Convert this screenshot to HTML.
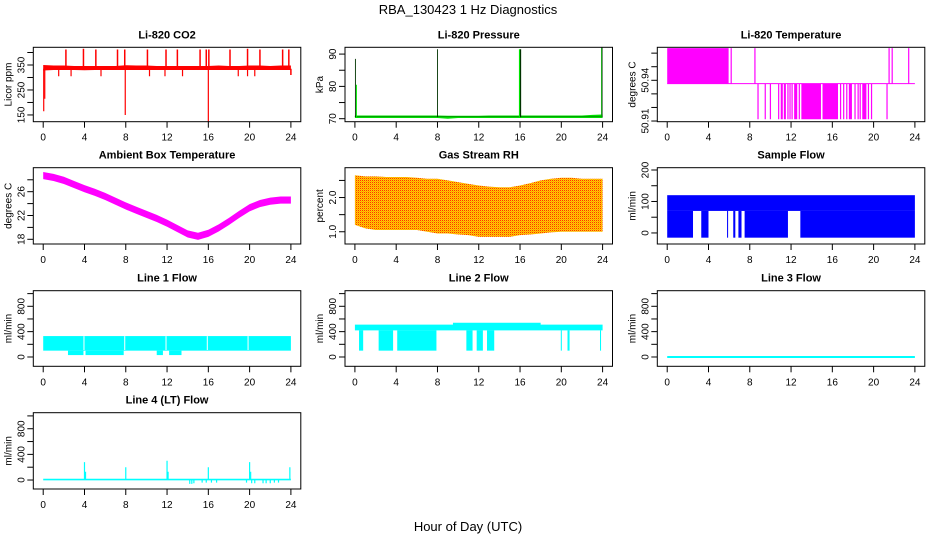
<!DOCTYPE html>
<html><head><meta charset="utf-8"><style>
html,body{margin:0;padding:0;background:#fff}
svg{display:block;font-family:"Liberation Sans",Arial,sans-serif}
</style></head><body>
<svg id="chart" width="936" height="540" viewBox="0 0 936 540" xmlns="http://www.w3.org/2000/svg">
<defs>
<pattern id="rhpat" width="2" height="2" patternUnits="userSpaceOnUse">
<rect width="2" height="2" fill="#ffd000"/><rect x="0" y="0" width="1" height="1" fill="#ff3000"/><rect x="1" y="1" width="1" height="1" fill="#ffa000"/>
</pattern>
</defs>
<text x="468" y="14" font-size="13" text-anchor="middle">RBA_130423  1 Hz Diagnostics</text>
<text x="468" y="531" font-size="13" text-anchor="middle">Hour of Day (UTC)</text>
</svg>
<script>
// ---- data ----
const hours = [0,1,2,3,4,5,6,7,8,9,10,11,12,13,14,15,16,17,18,19,20,21,22,23,24];
const co2Lo = [328,330,330,330,329,330,330,330,330,330,330,330,330,330,330,330,330,330,330,330,330,330,330,330,330];
const co2Hi = [350,348,348,346,346,346,346,346,349,348,348,346,346,346,346,346,346,348,346,346,348,348,346,348,348];
const co2UpHours = [2.2,3.9,5.1,7.2,7.9,10.1,11.9,13.0,15.2,15.8,16.05,18.1,19.8,21.0,23.2,23.8];
const co2UpVals = [412,415,412,412,412,412,412,412,412,412,412,412,415,412,412,412];
const co2DownHours = [0.05,0.15,7.95,16.0,1.5,2.7,5.6,10.3,11.8,13.5,18.9,19.8,20.5];
const co2DownVals = [165,215,150,122,305,305,305,305,305,305,305,305,305];

const presLo = [70.2,70.2,70.2,70.2,70.2,70.2,70.2,70.2,70.2,70.0,70.2,70.2,70.2,70.2,70.2,70.2,70.2,70.2,70.2,70.2,70.2,70.2,70.2,70.2,70.2];
const presHi = [71.0,71.0,71.0,71.0,71.0,71.0,71.0,71.0,71.0,70.9,70.9,70.9,70.9,71.0,71.0,71.0,71.0,71.0,71.0,71.0,71.0,71.0,71.0,71.2,71.3];
const presSpikeHours = [0.05,0.15,8.0,15.95,16.05,23.9,23.95];
const presSpikeVals = [88.5,80.5,91.5,91.5,91.5,92.0,92.0];

const tempMain = 50.9375;
const tempUpBlocks = [[0,5.95]];
const tempUpHours = [6.2,8.5,21.5,21.8,23.4];
const tempDownBlocks = [[11.0,11.2],[11.3,11.5],[12.3,12.6],[13.0,14.9],[15.05,16.55],[17.6,17.9],[18.9,19.3]];
const tempDownHours = [8.8,9.5,10.0,10.8,11.7,11.9,12.1,12.8,16.8,17.1,17.4,18.2,18.5,18.7,19.5,19.8,21.3];
const tempTop = 50.9637, tempBottom = 50.9113;

const ambLo = [28.1,27.8,27.3,26.6,25.9,25.3,24.6,23.8,23.0,22.3,21.6,20.9,20.1,19.2,18.3,17.9,18.4,19.3,20.4,21.6,22.7,23.4,23.8,24.0,24.0];
const ambHi = [29.3,29.0,28.5,27.8,27.1,26.5,25.8,25.0,24.2,23.5,22.8,22.1,21.3,20.4,19.5,19.1,19.6,20.5,21.6,22.8,23.9,24.6,25.0,25.2,25.2];

const rhLo = [1.2,1.1,1.05,1.05,1.05,1.05,1.05,1.0,0.95,0.95,0.92,0.9,0.85,0.85,0.85,0.85,0.9,0.92,0.95,0.98,1.0,1.0,1.0,1.0,1.0];
const rhHi = [2.65,2.62,2.62,2.6,2.6,2.6,2.58,2.55,2.55,2.5,2.45,2.4,2.35,2.32,2.3,2.3,2.35,2.42,2.5,2.55,2.58,2.58,2.55,2.55,2.55];

const sampleHi = 120, sampleMid = 70, sampleLo = -15;
const sampleGaps = [[2.5,3.3],[4.0,5.8],[5.9,6.4],[6.6,6.9],[7.2,7.5],[11.7,12.9]];

const line1Lo = 100, line1Hi = 330;
const line1LowBlocks = [[2.4,3.9],[4.1,7.8],[11.0,11.6],[12.2,13.4]];
const line1LowVal = 30;
const line1Gaps = [3.95,7.9,11.9,15.9,19.85];

const line2Lo = 420;
const line2HiHours = [0,9.5,9.5,18,18,24];
const line2HiVals = [510,510,540,540,510,510];
const line2DownBlocks = [[0.4,0.8],[2.3,3.7],[4.1,7.9],[10.8,11.4],[11.8,12.4],[12.8,13.5],[19.95,20.05],[20.6,20.8],[23.75,23.85]];
const line2DownVal = 100;

const line3Val = 0;

const line4Lo = -5, line4Hi = 20;
const line4SpikeHours = [4.0,4.1,8.0,12.0,12.1,16.0,20.0,20.1,23.9];
const line4SpikeVals = [280,130,200,300,130,200,280,130,200];
const line4DipHours = [14.2,14.4,14.6,15.4,15.8,16.3,16.8,19.7,20.2,20.5,21.3,21.6,22.0,22.4,22.8];
const line4DipVals = [-60,-60,-50,-40,-40,-40,-40,-40,-50,-50,-50,-50,-50,-40,-40];

// ---- layout ----
const NS = 'http://www.w3.org/2000/svg';
const svg = document.getElementById('chart');
const colL = [33.3,345,657.3], W = 267.5;
const rowT = [47.3,167.7,290.7,412.7], rowH = [74.4,76.3,75.6,76.3];
function mk(tag, attrs, parent){ const e=document.createElementNS(NS,tag); for(const k in attrs) e.setAttribute(k,attrs[k]); (parent||svg).appendChild(e); return e; }
let clipId=0;
function panel(r,c,ymin,ymax,title,ylab,ticks,labels,name){
  const p={x0:colL[c],y0:rowT[r],w:W,h:rowH[r],ymin,ymax};
  p.sx=h=>p.x0+(h+0.96)/25.92*p.w;
  p.sy=v=>p.y0+p.h-(v-ymin)/(ymax-ymin)*p.h;
  const g=mk('g',{});
  
  
  p.g=g;
  const id='cl'+(clipId++);
  const cp=mk('clipPath',{id},g); mk('rect',{x:p.x0,y:p.y0,width:p.w,height:p.h},cp);
  p.data=mk('g',{'clip-path':'url(#'+id+')'},g);
  
  
  const box=mk('rect',{x:p.x0,y:p.y0,width:p.w,height:p.h,fill:'none',stroke:'#000','stroke-width':1},g);
  
  
  const t=mk('text',{x:p.x0+p.w/2,y:p.y0-9,'font-size':11,'font-weight':'bold','text-anchor':'middle'},g); t.textContent=title;
  
  
  const yl=mk('text',{transform:`translate(${p.x0-22},${p.y0+p.h/2}) rotate(-90)`,'font-size':10,'text-anchor':'middle'},g); yl.textContent=ylab;
  
  
  const xb=p.y0+p.h;
  for(let h=0;h<=24;h+=4){
    const x=p.sx(h);
    mk('line',{x1:x,y1:xb,x2:x,y2:xb+6,stroke:'#000'},g);
    const tl=mk('text',{x,y:xb+19,'font-size':10,'text-anchor':'middle'},g); tl.textContent=h;
    
    
  }
  ticks.forEach(v=>{ const y=p.sy(v); mk('line',{x1:p.x0-6,y1:y,x2:p.x0,y2:y,stroke:'#000'},g); });
  labels.forEach(l=>{ const y=p.sy(l[0]);
    const tl=mk('text',{transform:`translate(${p.x0-9},${y}) rotate(-90)`,'font-size':10,'text-anchor':'middle'},g); tl.textContent=l[1];
    
    
  });
  return p;
}
function band(p,xs,lo,hi,fill){
  let pts=xs.map((h,i)=>p.sx(h)+','+p.sy(hi[i]));
  for(let i=xs.length-1;i>=0;i--) pts.push(p.sx(xs[i])+','+p.sy(lo[i]));
  const e=mk('polygon',{points:pts.join(' '),fill},p.data);
  
  
  return e;
}
function rect(p,h1,h2,v1,v2,fill){
  const x1=p.sx(h1),x2=p.sx(h2),y1=p.sy(Math.max(v1,v2)),y2=p.sy(Math.min(v1,v2));
  const e=mk('rect',{x:x1,y:y1,width:Math.max(x2-x1,1),height:Math.max(y2-y1,1),fill},p.data);
  
  
}
function spike(p,h,v1,v2,color,w){
  const e=mk('line',{x1:p.sx(h),x2:p.sx(h),y1:p.sy(v1),y2:p.sy(v2),stroke:color,'stroke-width':w||1.2},p.data);
  
  
}
function hline(p,h1,h2,v,color,w){
  const e=mk('line',{x1:p.sx(h1),x2:p.sx(h2),y1:p.sy(v),y2:p.sy(v),stroke:color,'stroke-width':w||1.2},p.data);
  
  
}

let p=panel(0,0,123,420.8,'Li-820 CO2','Licor ppm',[150,200,250,300,350,400],[[150,'150'],[250,'250'],[350,'350']],'co2');
band(p,hours,co2Lo,co2Hi,'#ff0000');
co2UpHours.forEach((h,i)=>spike(p,h,335,co2UpVals[i],'#ff0000',1.5));
co2DownHours.forEach((h,i)=>spike(p,h,335,co2DownVals[i],'#ff0000',1.2));
spike(p,24,335,310,'#ff0000',1.5);

p=panel(0,1,69.07,92.1,'Li-820 Pressure','kPa',[70,75,80,85,90],[[70,'70'],[80,'80'],[90,'90']],'pressure');
band(p,hours,presLo,presHi,'#00dd00');
hline(p,0,24,70.6,'#006600',0.6);
presSpikeHours.forEach((h,i)=>spike(p,h,70.5,presSpikeVals[i],i%2?'#00ee00':'#003300',i===3||i===4?1.2:0.9));

p=panel(0,2,50.9095,50.9643,'Li-820 Temperature','degrees C',[50.91,50.92,50.93,50.94,50.95,50.96],[[50.91,'50.91'],[50.94,'50.94']],'li820-temperature');
hline(p,0,24,tempMain,'#ff00ff',1);
tempUpBlocks.forEach(b=>rect(p,b[0],b[1],tempMain,tempTop,'#ff00ff'));
tempUpHours.forEach(h=>spike(p,h,tempMain,tempTop,'#ff00ff',1.2));
tempDownBlocks.forEach(b=>rect(p,b[0],b[1],tempMain,tempBottom,'#ff00ff'));
tempDownHours.forEach(h=>spike(p,h,tempMain,tempBottom,'#ff00ff',1.2));

p=panel(1,0,17.21,30.03,'Ambient Box Temperature','degrees C',[18,20,22,24,26,28],[[18,'18'],[22,'22'],[26,'26']],'ambient-temperature');
band(p,hours,ambLo,ambHi,'#ff00ff');

p=panel(1,1,0.642,2.872,'Gas Stream RH','percent',[1.0,1.5,2.0,2.5],[[1.0,'1.0'],[2.0,'2.0']],'gas-stream-rh');
band(p,hours,rhLo,rhHi,'url(#rhpat)');

p=panel(1,2,-35.1,207.3,'Sample Flow','ml/min',[0,50,100,150,200],[[0,'0'],[100,'100'],[200,'200']],'sample-flow');
rect(p,0,24,sampleMid,sampleHi,'#0000ff');
{ let start=0; sampleGaps.forEach(g=>{ rect(p,start,g[0],sampleLo,sampleMid,'#0000ff'); start=g[1]; }); rect(p,start,24,sampleLo,sampleMid,'#0000ff'); }

const flowTicks=[0,200,400,600,800,1000], flowLabels=[[0,'0'],[400,'400'],[800,'800']];
p=panel(2,0,-147,1046,'Line 1 Flow','ml/min',flowTicks,flowLabels,'line1-flow');
rect(p,0,24,line1Lo,line1Hi,'#00ffff');
line1LowBlocks.forEach(b=>rect(p,b[0],b[1],line1LowVal,line1Lo,'#00ffff'));
line1Gaps.forEach(h=>spike(p,h,line1Lo+10,line1Hi,'#ffffff',1));

p=panel(2,1,-147,1046,'Line 2 Flow','ml/min',flowTicks,flowLabels,'line2-flow');
band(p,line2HiHours,line2HiHours.map(()=>line2Lo),line2HiVals,'#00ffff');
line2DownBlocks.forEach(b=>rect(p,b[0],b[1],line2DownVal,line2Lo,'#00ffff'));

p=panel(2,2,-147,1046,'Line 3 Flow','ml/min',flowTicks,flowLabels,'line3-flow');
hline(p,0,24,line3Val,'#00ffff',2);

p=panel(3,0,-140,1050,'Line 4 (LT) Flow','ml/min',flowTicks,flowLabels,'line4-flow');
rect(p,0,24,line4Lo,line4Hi,'#00ffff');
line4SpikeHours.forEach((h,i)=>spike(p,h,0,line4SpikeVals[i],'#00ffff',1.2));
line4DipHours.forEach((h,i)=>spike(p,h,0,line4DipVals[i],'#00ffff',1.2));
</script>
</body></html>
